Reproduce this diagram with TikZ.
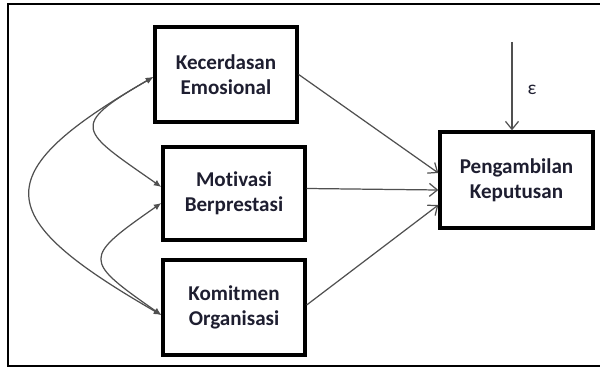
\documentclass[tikz,border=0pt]{standalone}
\usepackage{fontspec}
\setmainfont{Carlito}[Ligatures=NoCommon]
\usepackage{xcolor}
\usetikzlibrary{arrows.meta,positioning}
\definecolor{ink}{HTML}{1E1E30}
\definecolor{wire}{HTML}{505050}

\begin{document}
\begin{tikzpicture}[font=\bfseries\fontsize{12}{14.2}\selectfont,>=Stealth,
  var/.style={draw,line width=1.9pt,align=center,text=ink,minimum width=2.84cm,minimum height=1.9cm,inner sep=2pt},
  link/.style={wire,line width=0.7pt,-{Straight Barb[length=1.6mm,width=2.6mm]}},
  cov/.style={wire,line width=0.7pt,{Latex[length=1.5mm,width=1.3mm]}-{Latex[length=1.5mm,width=1.3mm]}}]
\useasboundingbox (0,0) rectangle (12,7.5);
% outer frame
\draw[line width=1.5pt] (0.16,0.18) rectangle (12.3,7.42);
% exogenous variables
\node[var] (KE) at (4.52,6.01) {Kecerdasan\\Emosional};
\node[var,minimum height=1.86cm] (MB) at (4.68,3.63) {Motivasi\\Berprestasi};
\node[var] (KO) at (4.68,1.35) {Komitmen\\Organisasi};
% endogenous variable and its error term
\node[var,minimum width=3.06cm,minimum height=1.92cm] (PK) at (10.33,3.9) {Pengambilan\\Keputusan};
\coordinate (err) at (10.24,6.66);
\draw[link] (err) -- (err |- PK.north);
\node[font=\fontsize{11}{13}\selectfont,text=ink] (eps) at (10.64,5.7) {ε};
% direct paths
\draw[link] (KE.east) -- ([yshift=1.4mm]PK.west);
\draw[link] ([yshift=1mm]MB.east) -- ([yshift=-2mm]PK.west);
\draw[link] ([yshift=0.5mm]KO.east) -- ([yshift=-5mm]PK.west);
% correlations
\draw[cov] ([yshift=-0.5mm]KE.west) to[out=210,in=150,looseness=2.1] ([yshift=-1.5mm]KO.west);
\draw[cov] ([yshift=-0.5mm]KE.west) to[out=210,in=145,looseness=2.3] ([yshift=1.3mm]MB.west);
\draw[cov] ([yshift=-1.9mm]MB.west) to[out=215,in=145,looseness=2.2] ([yshift=-1.5mm]KO.west);
\end{tikzpicture}
\end{document}
